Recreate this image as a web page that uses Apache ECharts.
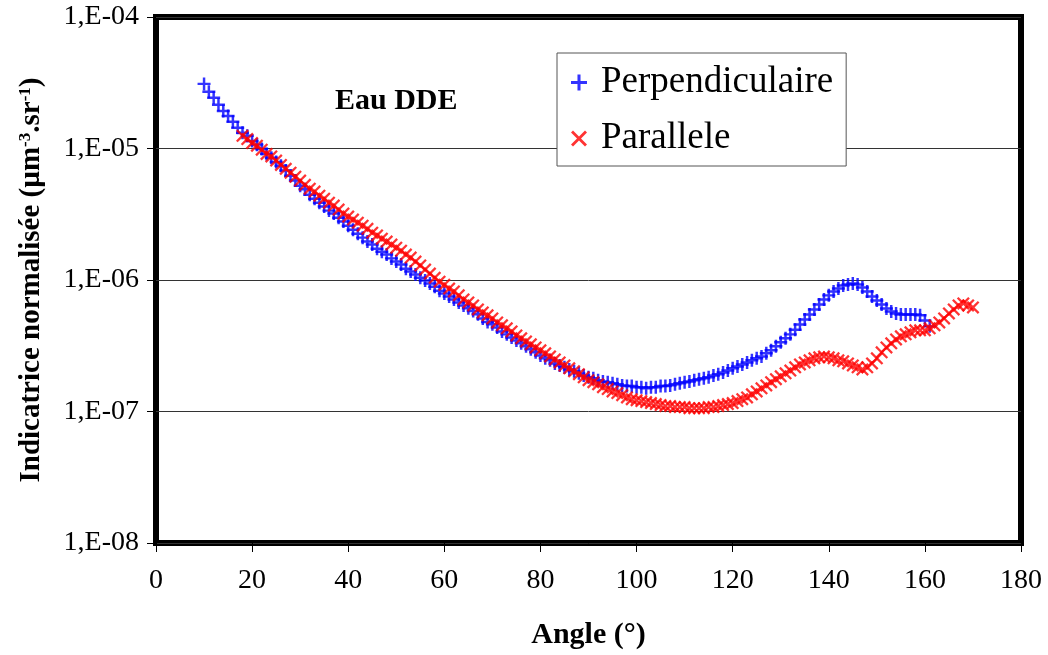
<!DOCTYPE html>
<html>
<head>
<meta charset="utf-8">
<script src="https://cdn.jsdelivr.net/npm/echarts@6/dist/echarts.min.js"></script>
<style>
html,body{margin:0;padding:0;background:#fff;}
#c{width:1048px;height:655px;}
</style>
</head>
<body>
<div id="c"></div>
<script>
// ---- data ----
const perpAngles = [10,11,12,13,14,15,16,17,18,19,20,21,22,23,24,25,26,27,28,29,30,31,32,33,34,35,36,37,38,39,40,41,42,43,44,45,46,47,48,49,50,51,52,53,54,55,56,57,58,59,60,61,62,63,64,65,66,67,68,69,70,71,72,73,74,75,76,77,78,79,80,81,82,83,84,85,86,87,88,89,90,91,92,93,94,95,96,97,98,99,100,101,102,103,104,105,106,107,108,109,110,111,112,113,114,115,116,117,118,119,120,121,122,123,124,125,126,127,128,129,130,131,132,133,134,135,136,137,138,139,140,141,142,143,144,145,146,147,148,149,150,151,152,153,154,155,156,157,158,159,160,161];
const perpValues = [3.10e-5,2.70e-5,2.43e-5,2.15e-5,1.93e-5,1.77e-5,1.60e-5,1.44e-5,1.32e-5,1.25e-5,1.14e-5,1.07e-5,9.9e-6,9.1e-6,8.5e-6,7.9e-6,7.4e-6,6.8e-6,6.2e-6,5.7e-6,5.2e-6,4.9e-6,4.45e-6,4.15e-6,3.87e-6,3.62e-6,3.37e-6,3.20e-6,2.98e-6,2.78e-6,2.59e-6,2.41e-6,2.25e-6,2.10e-6,1.96e-6,1.86e-6,1.73e-6,1.64e-6,1.56e-6,1.46e-6,1.38e-6,1.31e-6,1.22e-6,1.16e-6,1.10e-6,1.04e-6,9.9e-7,9.4e-7,8.9e-7,8.3e-7,7.9e-7,7.5e-7,7.1e-7,6.75e-7,6.4e-7,6.1e-7,5.8e-7,5.5e-7,5.1e-7,4.8e-7,4.6e-7,4.36e-7,4.06e-7,3.86e-7,3.66e-7,3.47e-7,3.30e-7,3.13e-7,2.97e-7,2.82e-7,2.67e-7,2.54e-7,2.45e-7,2.32e-7,2.24e-7,2.17e-7,2.09e-7,2.02e-7,1.95e-7,1.88e-7,1.82e-7,1.79e-7,1.73e-7,1.69e-7,1.67e-7,1.64e-7,1.61e-7,1.58e-7,1.56e-7,1.56e-7,1.53e-7,1.53e-7,1.50e-7,1.53e-7,1.53e-7,1.56e-7,1.56e-7,1.58e-7,1.61e-7,1.64e-7,1.67e-7,1.69e-7,1.73e-7,1.76e-7,1.79e-7,1.82e-7,1.88e-7,1.92e-7,1.98e-7,2.05e-7,2.13e-7,2.20e-7,2.28e-7,2.36e-7,2.45e-7,2.54e-7,2.62e-7,2.77e-7,2.92e-7,3.13e-7,3.36e-7,3.60e-7,3.86e-7,4.19e-7,4.59e-7,5.01e-7,5.47e-7,5.97e-7,6.51e-7,7.11e-7,7.64e-7,8.18e-7,8.62e-7,9.08e-7,9.24e-7,9.41e-7,9.24e-7,8.77e-7,8.18e-7,7.50e-7,6.99e-7,6.51e-7,6.08e-7,5.76e-7,5.57e-7,5.47e-7,5.47e-7,5.47e-7,5.47e-7,5.39e-7,4.92e-7,4.44e-7];
const paraAngles = [18,19,20,21,22,23,24,25,26,27,28,29,30,31,32,33,34,35,36,37,38,39,40,41,42,43,44,45,46,47,48,49,50,51,52,53,54,55,56,57,58,59,60,61,62,63,64,65,66,67,68,69,70,71,72,73,74,75,76,77,78,79,80,81,82,83,84,85,86,87,88,89,90,91,92,93,94,95,96,97,98,99,100,101,102,103,104,105,106,107,108,109,110,111,112,113,114,115,116,117,118,119,120,121,122,123,124,125,126,127,128,129,130,131,132,133,134,135,136,137,138,139,140,141,142,143,144,145,146,147,148,149,150,151,152,153,154,155,156,157,158,159,160,161,162,163,164,165,166,167,168,169,170];
const paraValues = [1.25e-5,1.18e-5,1.10e-5,1.05e-5,9.8e-6,9.1e-6,8.7e-6,8.1e-6,7.5e-6,7.0e-6,6.55e-6,6.1e-6,5.7e-6,5.3e-6,4.95e-6,4.70e-6,4.38e-6,4.15e-6,3.87e-6,3.68e-6,3.43e-6,3.20e-6,3.04e-6,2.88e-6,2.73e-6,2.59e-6,2.45e-6,2.29e-6,2.18e-6,2.06e-6,1.96e-6,1.86e-6,1.76e-6,1.67e-6,1.56e-6,1.48e-6,1.38e-6,1.29e-6,1.20e-6,1.12e-6,1.04e-6,9.7e-7,9.2e-7,8.6e-7,8.18e-7,7.64e-7,7.11e-7,6.75e-7,6.40e-7,5.97e-7,5.67e-7,5.39e-7,5.10e-7,4.76e-7,4.52e-7,4.29e-7,4.06e-7,3.79e-7,3.60e-7,3.41e-7,3.24e-7,3.07e-7,2.92e-7,2.77e-7,2.62e-7,2.49e-7,2.36e-7,2.24e-7,2.13e-7,2.02e-7,1.92e-7,1.82e-7,1.73e-7,1.67e-7,1.61e-7,1.53e-7,1.48e-7,1.42e-7,1.38e-7,1.33e-7,1.28e-7,1.24e-7,1.22e-7,1.20e-7,1.18e-7,1.16e-7,1.14e-7,1.12e-7,1.10e-7,1.10e-7,1.08e-7,1.08e-7,1.08e-7,1.06e-7,1.06e-7,1.06e-7,1.06e-7,1.08e-7,1.08e-7,1.10e-7,1.12e-7,1.14e-7,1.16e-7,1.20e-7,1.24e-7,1.28e-7,1.35e-7,1.42e-7,1.50e-7,1.58e-7,1.67e-7,1.76e-7,1.85e-7,1.95e-7,2.05e-7,2.17e-7,2.28e-7,2.36e-7,2.45e-7,2.54e-7,2.58e-7,2.62e-7,2.58e-7,2.54e-7,2.45e-7,2.41e-7,2.32e-7,2.24e-7,2.17e-7,2.09e-7,2.17e-7,2.32e-7,2.54e-7,2.82e-7,3.07e-7,3.30e-7,3.53e-7,3.73e-7,3.86e-7,4.00e-7,4.14e-7,4.14e-7,4.14e-7,4.29e-7,4.52e-7,4.76e-7,5.10e-7,5.57e-7,5.97e-7,6.40e-7,6.63e-7,6.40e-7,6.18e-7];
const seriesNames = ['Perpendiculaire', 'Parallele'];
const xTicks = [0,20,40,60,80,100,120,140,160,180];
const yTickLabels = ['1,E-08','1,E-07','1,E-06','1,E-05','1,E-04'];
const annotation = 'Eau DDE';
const xTitle = 'Angle (°)';

// ---- styling ----
const FONT = '"Liberation Serif","Times New Roman",serif';
const PLUS = 'path://M4.05,0H5.95V4.05H10V5.95H5.95V10H4.05V5.95H0V4.05H4.05Z';
const CROSS = 'path://M0,1.25L1.25,0L5,3.75L8.75,0L10,1.25L6.25,5L10,8.75L8.75,10L5,6.25L1.25,10L0,8.75L3.75,5Z';

const pair = (xs, ys) => xs.map((x, i) => [x, ys[i]]);

const chart = echarts.init(document.getElementById('c'), null, {renderer: 'canvas'});
chart.setOption({
  backgroundColor: '#fff',
  animation: false,
  grid: {
    left: 156, top: 17, width: 865, height: 528,
    show: true, borderColor: '#000', borderWidth: 6, backgroundColor: '#fff'
  },
  xAxis: {
    type: 'value', min: 0, max: 180, interval: 20,
    axisLine: {show: false},
    axisTick: {show: true, length: 9, lineStyle: {color: '#000', width: 1}},
    splitLine: {show: false},
    axisLabel: {fontFamily: FONT, fontSize: 28, color: '#000', margin: 24,
      formatter: v => String(xTicks[xTicks.indexOf(v)])},
    name: xTitle, nameLocation: 'middle', nameGap: 77,
    nameTextStyle: {fontFamily: FONT, fontSize: 30, fontWeight: 'bold', color: '#000'}
  },
  yAxis: {
    type: 'log', logBase: 10, min: 1e-8, max: 1e-4,
    axisLine: {show: false},
    axisTick: {show: true, length: 9, lineStyle: {color: '#000', width: 1}},
    splitLine: {show: true, lineStyle: {color: '#333', width: 1}},
    axisLabel: {fontFamily: FONT, fontSize: 28, color: '#000', margin: 17,
      formatter: v => yTickLabels[Math.round(Math.log10(v)) + 8]},
    name: 'Indicatrice normalisée (µm{sup|-3}.sr{sup|-1})',
    nameLocation: 'middle', nameGap: 110, nameRotate: 90,
    nameTextStyle: {fontFamily: FONT, fontSize: 29, fontWeight: 'bold', color: '#000',
      rich: {sup: {fontFamily: FONT, fontSize: 17, fontWeight: 'bold', color: '#000', verticalAlign: 'top', padding: [0, 0, 12, 0]}}}
  },
  legend: {
    orient: 'vertical', left: 557, top: 53,
    padding: [8, 13, 6, 14], itemGap: 13,
    backgroundColor: '#fff', borderColor: '#555', borderWidth: 1,
    itemWidth: 16, itemHeight: 16,
    textStyle: {fontFamily: FONT, fontSize: 37, color: '#000', lineHeight: 43, padding: [0, 0, 0, 9]},
    data: [{name: seriesNames[0], icon: PLUS}, {name: seriesNames[1], icon: CROSS}]
  },
  graphic: [{
    type: 'text', left: 335, top: 86, z: 50,
    style: {text: annotation, font: 'bold 30px ' + FONT, fill: '#000'}
  }],
  series: [
    {name: seriesNames[0], type: 'scatter', data: pair(perpAngles, perpValues),
     symbol: PLUS, symbolSize: 13, itemStyle: {color: '#0000ff'}, z: 2},
    {name: seriesNames[1], type: 'scatter', data: pair(paraAngles, paraValues),
     symbol: CROSS, symbolSize: 13, itemStyle: {color: '#ff0000'}, z: 3}
  ]
});
</script>
</body>
</html>
